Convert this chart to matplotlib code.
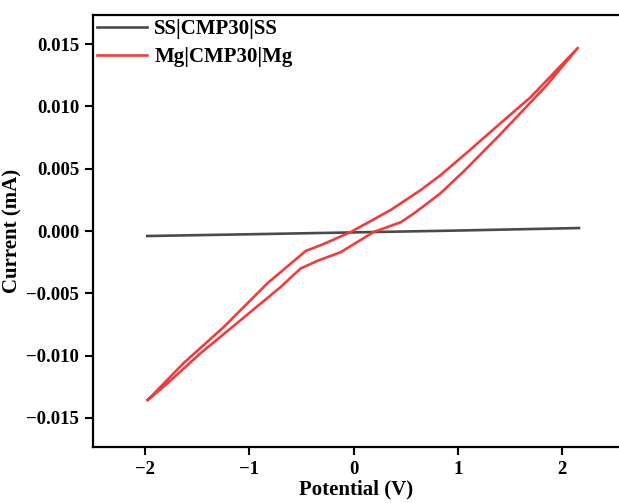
import numpy as np
import matplotlib
matplotlib.use("Agg")
import matplotlib.pyplot as plt

# SS|CMP30|SS blank cell
ss_v = [-1.98, -1.0, 0.0, 1.0, 2.16]
ss_i = [-0.00040, -0.00026, -0.00011, 0.00004, 0.00024]

# Mg|CMP30|Mg cyclic scan, upper branch then lower branch
mg_up_v = [-1.975, -1.63, -1.246, -0.825, -0.46, -0.30, -0.029, 0.355,
           0.642, 0.834, 1.10, 1.40, 1.697, 2.148]
mg_up_i = [-0.01356, -0.01059, -0.0077, -0.00417, -0.00160, -0.00108,
           -0.00008, 0.00169, 0.00329, 0.00449, 0.0064, 0.0086, 0.01075, 0.01469]
mg_dn_v = [2.148, 1.84, 1.38, 1.05, 0.834, 0.71, 0.575, 0.45,
           0.19, -0.125, -0.345, -0.508, -0.60, -0.70, -1.083, -1.467, -1.783, -1.975]
mg_dn_i = [0.01469, 0.01160, 0.00754, 0.00475, 0.00305, 0.00225,
           0.00140, 0.00070, -0.00008, -0.00170, -0.00238, -0.00300, -0.00370,
           -0.00449, -0.00714, -0.00979, -0.0122, -0.01356]

plt.rcParams['font.family'] = ['Liberation Serif', 'DejaVu Serif']
plt.rcParams['font.weight'] = 'bold'

fig = plt.figure(figsize=(6.19, 5.03), dpi=100)
ax = fig.add_axes([0.1502, 0.1113, 0.851, 0.8588])

ax.plot(ss_v, ss_i, color='#4a4a4a', lw=1.9, label='SS|CMP30|SS')
ax.plot(mg_up_v + mg_dn_v, mg_up_i + mg_dn_i, color='#f03c3c', lw=1.9,
        label='Mg|CMP30|Mg')

ax.set_xlim(-2.5, 2.55)
ax.set_ylim(-0.01733, 0.01733)
ax.set_xticks([-2, -1, 0, 1, 2])
ax.set_yticks([-0.015, -0.010, -0.005, 0.000, 0.005, 0.010, 0.015])
ax.set_yticklabels(['\u22120.015', '\u22120.010', '\u22120.005', '0.000',
                    '0.005', '0.010', '0.015'])
ax.set_xticklabels(['\u22122', '\u22121', '0', '1', '2'])
ax.tick_params(direction='out', length=6, width=1.5, labelsize=13.5, pad=4)
for lab in ax.get_xticklabels() + ax.get_yticklabels():
    lab.set_fontweight('bold')
for s in ['left', 'bottom', 'top']:
    ax.spines[s].set_linewidth(1.6)
ax.spines['right'].set_visible(False)

ax.set_xlabel('Potential (V)', fontsize=15, fontweight='bold', labelpad=1)
ax.set_ylabel('Current (mA)', fontsize=15, fontweight='bold', labelpad=3)

ax.legend(loc='upper left', frameon=False, handlelength=2.4,
          handletextpad=0.35, borderaxespad=0.05, borderpad=0.15, labelspacing=0.38,
          prop={'weight': 'bold', 'size': 15})

fig.savefig('out.png', dpi=100)
